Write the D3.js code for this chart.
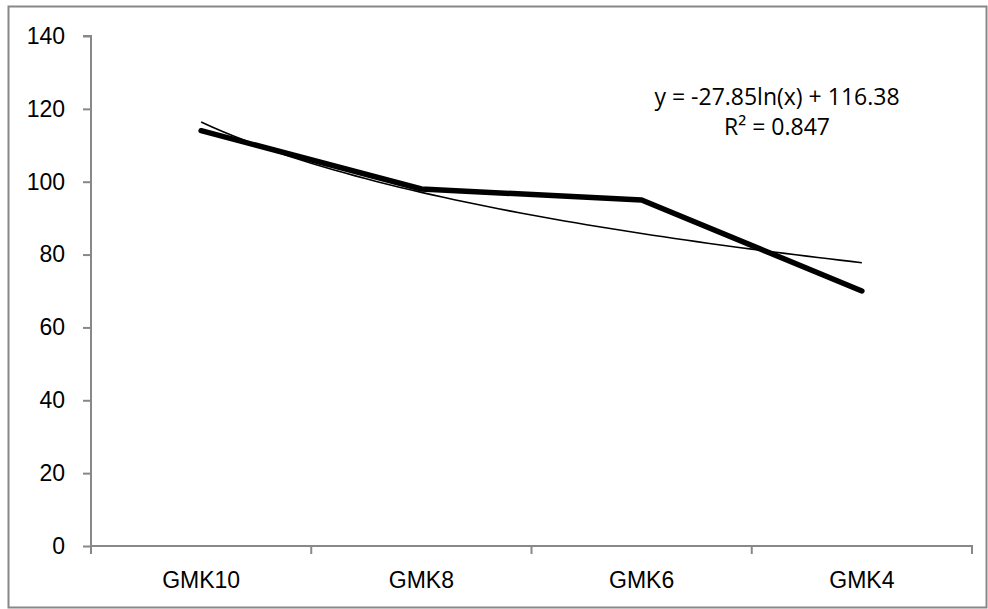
<!DOCTYPE html>
<html lang="en">
<head>
   <meta charset="UTF-8">
   <title>GMK trend</title>
   <script src="https://d3js.org/d3.v7.min.js"></script>
   <style>
       body {
           margin: 0;
           font-family: "Open Sans", Calibri, sans-serif;
       }
       .axis path,
       .axis line {
           stroke: #888;
           stroke-width: 2;
           fill: none;
       }
       .axis text {
           font-size: 23px;
           fill: #000;
       }
   </style>
</head>
<body>
   <svg id="chart" width="988" height="609"></svg>
   <script>
    // values
    var categories = ["GMK10", "GMK8", "GMK6", "GMK4"];
    var values = [114, 98, 95, 70];
    var yTicks = [0, 20, 40, 60, 80, 100, 120, 140];
    // log trend given by the chart label
    var trendA = -27.85, trendB = 116.38;
    var trendLabel = ["y = -27.85ln(x) + 116.38", "R\u00B2 = 0.847"];

    var margin = {top: 36, right: 16, bottom: 63, left: 91},
        width = 988 - margin.left - margin.right,
        height = 609 - margin.top - margin.bottom;

    var svg = d3.select("#chart");

    // outer chart border
    svg.append("rect")
        .attr("x", 8.5).attr("y", 6.5)
        .attr("width", 978).attr("height", 601)
        .attr("fill", "#fff")
        .attr("stroke", "#888")
        .attr("stroke-width", 2);

    var g = svg.append("g")
        .attr("transform", "translate(" + margin.left + "," + margin.top + ")");

    var x = d3.scaleBand().domain(categories).range([0, width]),
        y = d3.scaleLinear().domain([0, 140]).range([height, 0]);

    var cx = function(d) { return x(d) + x.bandwidth() / 2; };

    // y axis
    var yAxis = g.append("g")
        .attr("class", "axis")
        .call(d3.axisLeft(y).tickValues(yTicks).tickSize(8).tickSizeOuter(8).tickPadding(18));
    yAxis.select(".domain").attr("d", "M0," + (height + 8) + "V0H-8");

    // x axis with ticks at the category boundaries
    var xAxis = g.append("g")
        .attr("class", "axis")
        .attr("transform", "translate(0," + height + ")")
        .call(d3.axisBottom(x).tickSize(0).tickPadding(26));
    xAxis.select(".domain").attr("d", "M0,0H" + width + "V8");
    xAxis.selectAll(".bound")
        .data(categories.slice(1))
        .enter().append("line")
        .attr("x1", function(d) { return x(d); })
        .attr("x2", function(d) { return x(d); })
        .attr("y1", 0).attr("y2", 8);

    // data line
    var line = d3.line()
        .x(function(d, i) { return cx(categories[i]); })
        .y(function(d) { return y(d); });

    g.append("path")
        .datum(values)
        .attr("fill", "none")
        .attr("stroke", "#000")
        .attr("stroke-width", 5.5)
        .attr("stroke-linecap", "round")
        .attr("stroke-linejoin", "round")
        .attr("d", line);

    // logarithmic trendline
    var trend = d3.range(1, 4.001, 0.05).map(function(t) {
        return [cx(categories[0]) + (t - 1) * x.bandwidth(), y(trendA * Math.log(t) + trendB)];
    });
    g.append("path")
        .datum(trend)
        .attr("fill", "none")
        .attr("stroke", "#000")
        .attr("stroke-width", 1.6)
        .attr("d", d3.line());

    // trendline label
    svg.append("g")
        .selectAll("text")
        .data(trendLabel)
        .enter().append("text")
        .attr("x", 777)
        .attr("y", function(d, i) { return 105 + i * 30; })
        .attr("text-anchor", "middle")
        .style("font-size", "23px")
        .text(function(d) { return d; });
   </script>
</body>
</html>
